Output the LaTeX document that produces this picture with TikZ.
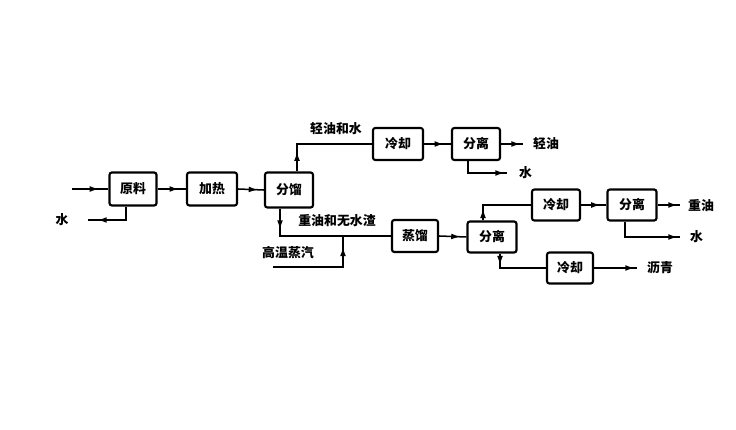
\documentclass[tikz,border=0pt]{standalone}
\usepackage{fontspec}
\newfontfamily\cjk{Noto Sans CJK SC}
\usetikzlibrary{calc,arrows.meta,decorations.markings}

\tikzset{
  unitbox/.style={draw, rounded corners=2pt, line width=1.8pt, inner sep=0pt, font=\cjk\bfseries\fontsize{11}{11}\selectfont},
  tag/.style={inner sep=0pt, font=\cjk\bfseries\fontsize{11}{11}\selectfont},
  flow/.style={line width=1.3pt, decoration={markings, mark=at position #1 with {\arrow{Latex[length=8pt,width=5pt]}}}, postaction=decorate}
}

\begin{document}
\begin{tikzpicture}[x=0.03cm, y=-0.03cm]

        \useasboundingbox (0,0) rectangle (736,430);

        % Boxes of the first line
        \node[unitbox, minimum width=1.41cm, minimum height=0.99cm] (yuanliao) at (133,189) {原料};
        \node[unitbox, minimum width=1.5cm, minimum height=0.99cm] (jiare) at (212,189) {加热};
        \node[unitbox, minimum width=1.44cm, minimum height=1.05cm] (fenliu) at (289,190) {分馏};

        % Light oil branch
        \node[unitbox, minimum width=1.5cm, minimum height=0.96cm] (lengqueA) at (398,144) {冷却};
        \node[unitbox, minimum width=1.44cm, minimum height=0.96cm] (fenliA) at (476,144) {分离};

        % Heavy oil branch
        \node[unitbox, minimum width=1.38cm, minimum height=0.96cm] (zhengliu) at (415,236) {蒸馏};
        \node[unitbox, minimum width=1.47cm, minimum height=0.93cm] (fenliB) at (492,237) {分离};
        \node[unitbox, minimum width=1.44cm, minimum height=0.93cm] (lengqueB) at (556,205) {冷却};
        \node[unitbox, minimum width=1.47cm, minimum height=0.93cm] (fenliC) at (632,205) {分离};
        \node[unitbox, minimum width=1.38cm, minimum height=0.93cm] (lengqueC) at (570,268) {冷却};

        % Texts
        \node[tag] (shuiA) at (62,220) {水};
        \node[tag] (qingyoushui) at (336,129) {轻油和水};
        \node[tag] (zhongyouzha) at (337,221) {重油和无水渣};
        \node[tag] (zhengqi) at (288,253) {高温蒸汽};
        \node[tag, anchor=west] (qingyou) at (533,144) {轻油};
        \node[tag, anchor=west] (shuiB) at (519,173) {水};
        \node[tag, anchor=west] (zhongyou) at (688,206) {重油};
        \node[tag, anchor=west] (shuiC) at (690,237) {水};
        \node[tag, anchor=west] (liqing) at (647,268) {沥青};

        % Free ends
        \coordinate (in) at (72,189);
        \coordinate (shuiAend) at (88,220);
        \coordinate (qingyouend) at (523,144);
        \coordinate (shuiBend) at (507,173);
        \coordinate (zhengqiin) at (273,267);
        \coordinate (join) at (343,236);
        \coordinate (zhongyouend) at (680,205);
        \coordinate (shuiCend) at (680,237);
        \coordinate (liqingend) at (637,268);

        % Connectors
        \draw[flow=-8pt] (in) -- (yuanliao.west);
        \draw[flow=-8pt] ($(yuanliao.south)+(-7,0)$) |- (shuiAend);
        \draw[flow=-6pt] (yuanliao.east) -- (jiare.west);
        \draw[flow=-5pt] (jiare.east) -- (fenliu.west);
        \draw[flow=17pt] ($(fenliu.north)+(8,0)$) |- (lengqueA.west);
        \draw[flow=-6pt] (lengqueA.east) -- (fenliA.west);
        \draw[flow=-2pt] (fenliA.east) -- (qingyouend);
        \draw[flow=-2pt] ($(fenliA.south)+(-8,0)$) |- (shuiBend);
        \draw[flow=18pt] ($(fenliu.south)+(-9,0)$) |- (zhengliu.west);
        \draw[flow=77pt] (zhengqiin) -| (join);
        \draw[flow=-5pt] (zhengliu.east) -- (fenliB.west);
        \draw[flow=10pt] ($(fenliB.north)+(-9,0)$) |- (lengqueB.west);
        \draw[flow=-5pt] (lengqueB.east) -- (fenliC.west);
        \draw[flow=-2pt] (fenliC.east) -- (zhongyouend);
        \draw[flow=-2pt] ($(fenliC.south)+(-7,0)$) |- (shuiCend);
        \draw[flow=10pt] ($(fenliB.south)+(8,0)$) |- (lengqueC.west);
        \draw[flow=-2pt] (lengqueC.east) -- (liqingend);

\end{tikzpicture}
\end{document}
